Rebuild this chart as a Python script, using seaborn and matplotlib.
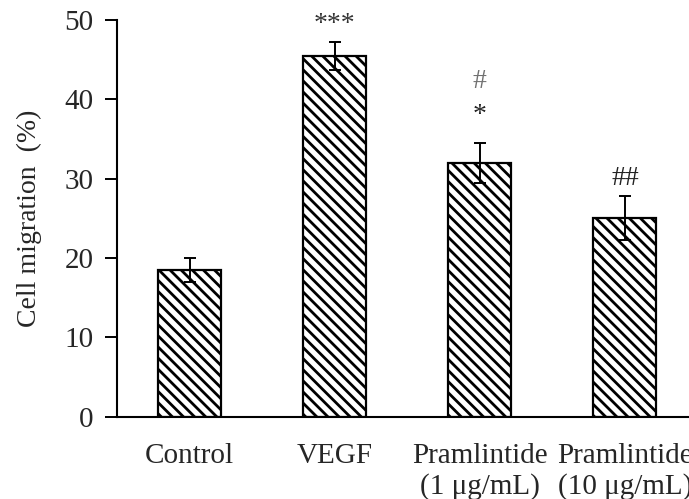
import matplotlib
matplotlib.use("Agg")
import matplotlib.pyplot as plt
import seaborn as sns
import pandas as pd

categories = ["Control", "VEGF", "Pramlintide\n(1 μg/mL)", "Pramlintide\n(10 μg/mL)"]
values = [18.5, 45.5, 32.0, 25.0]
errors = [1.5, 1.75, 2.5, 2.8]
annot_text = ["***", "#", "*", "##"]
annot_cat = [1, 2, 2, 3]
annot_y = [49.4, 42.2, 38.0, 30.0]
annot_color = ["#333333", "#707070", "#222222", "#222222"]
yticks = [0, 10, 20, 30, 40, 50]

sns.set_theme(style="white")
plt.rcParams["font.family"] = ["Liberation Serif", "DejaVu Serif"]
plt.rcParams["hatch.linewidth"] = 2.0
plt.rcParams["hatch.color"] = "black"

df = pd.DataFrame({"group": categories, "value": values})

fig = plt.figure(figsize=(6.89, 4.99), dpi=100)
ax = fig.add_axes([0.1698, 0.1653, 0.8425, 0.7946])

sns.barplot(data=df, x="group", y="value", ax=ax, color="white",
            edgecolor="black", linewidth=1.6, width=0.434, errorbar=None,
            saturation=1)
for p in ax.patches:
    p.set_hatch("\\\\\\")
    p.set_facecolor("white")

ax.errorbar(range(len(values)), values, yerr=errors, fmt="none",
            ecolor="black", elinewidth=1.4, capsize=4.5, capthick=1.4, zorder=5)

for t, c, y, col in zip(annot_text, annot_cat, annot_y, annot_color):
    ax.text(c, y, t, ha="center", va="center", fontsize=20, color=col)

ax.set_xlim(-0.5, 3.5)
ax.set_ylim(0, 50)
ax.set_yticks(yticks)
ax.set_xlabel("")
ax.set_ylabel("Cell migration  (%)", fontsize=20, labelpad=16)
ax.tick_params(axis="y", direction="out", length=9, width=1.4, labelsize=21, pad=8, left=True, color="black")
ax.tick_params(axis="x", length=0, labelsize=21, pad=19)
for lbl in ax.get_xticklabels():
    lbl.set_linespacing(1.2)
    lbl.set_verticalalignment("top")
for s in ["top", "right"]:
    ax.spines[s].set_visible(False)
for s in ["left", "bottom"]:
    ax.spines[s].set_color("black")
    ax.spines[s].set_linewidth(1.5)

fig.savefig("out.png", dpi=100)
